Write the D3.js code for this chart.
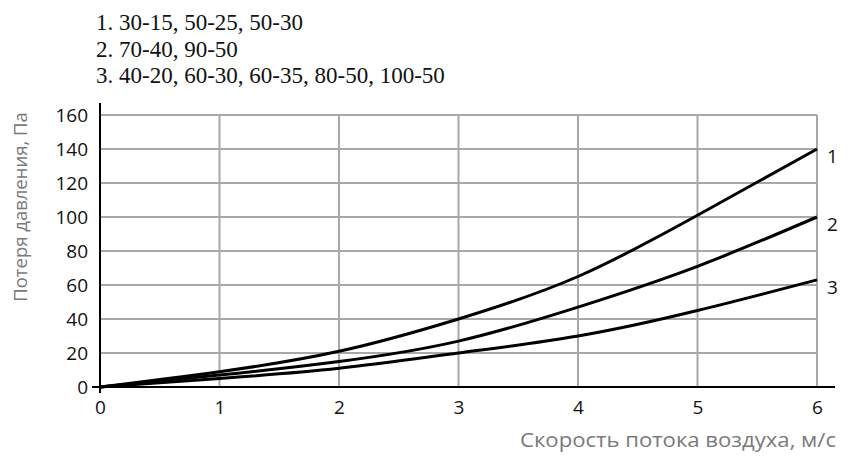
<!DOCTYPE html>
<html>
<head>
<meta charset="utf-8">
<script src="https://cdn.jsdelivr.net/npm/d3@7"></script>
<style>
body{margin:0;background:#fff;}
svg{display:block;}
</style>
</head>
<body>
<svg id="svg" width="848" height="463"></svg>
<script>
// скорость, м/с
var speeds = [0, 1, 2, 3, 4, 5, 6];
// потеря давления, Па
var curve1 = [0, 9, 21, 40, 65, 101, 140];
var curve2 = [0, 7, 15, 27, 47, 71, 100];
var curve3 = [0, 5, 11, 20, 30, 45, 63];
var curveNames = ["1", "2", "3"];
var yTicks = [0, 20, 40, 60, 80, 100, 120, 140, 160];
var headerLines = [
	"1. 30-15, 50-25, 50-30",
	"2. 70-40, 90-50",
	"3. 40-20, 60-30, 60-35, 80-50, 100-50"
];

var svg = d3.select("#svg");
var x = d3.scaleLinear().domain([0, 6]).range([100, 817]);
var y = d3.scaleLinear().domain([0, 160]).range([387, 115]);

// шапка
svg.selectAll("text.hdr").data(headerLines).enter().append("text")
	.attr("class", "hdr")
	.attr("x", 96)
	.attr("y", function(d, i){ return 30 + i * 26.5; })
	.style("font-family", "'Liberation Serif', 'Times New Roman', serif")
	.style("font-size", "23px")
	.attr("fill", "#111")
	.text(function(d){ return d; });

// сетка
var grid = svg.append("g").attr("stroke", "#a8a8a8").attr("stroke-width", 2);
grid.selectAll("line.h").data(yTicks.slice(1)).enter().append("line")
	.attr("x1", x(0)).attr("x2", x(6))
	.attr("y1", function(d){ return y(d); }).attr("y2", function(d){ return y(d); });
grid.selectAll("line.v").data(speeds.slice(1)).enter().append("line")
	.attr("x1", function(d){ return x(d); }).attr("x2", function(d){ return x(d); })
	.attr("y1", y(160)).attr("y2", y(0));

// оси
var yAxis = svg.append("g").attr("transform", "translate(" + x(0) + ",0)")
	.call(d3.axisLeft(y).tickValues(yTicks).tickSize(0).tickPadding(12));
yAxis.select(".domain").remove();
yAxis.selectAll("text")
	.style("font-family", "'Open Sans', sans-serif")
	.style("font-size", "19px")
	.attr("fill", "#111");

var xAxis = svg.append("g").attr("transform", "translate(0," + y(0) + ")")
	.call(d3.axisBottom(x).tickValues(speeds).tickSize(0).tickPadding(14).tickFormat(d3.format("d")));
xAxis.select(".domain").remove();
xAxis.selectAll("text")
	.style("font-family", "'Open Sans', sans-serif")
	.style("font-size", "19px")
	.attr("fill", "#111");

svg.append("line").attr("x1", x(0)).attr("x2", x(0)).attr("y1", 103).attr("y2", 393)
	.attr("stroke", "#000").attr("stroke-width", 2);
svg.append("line").attr("x1", 92).attr("x2", 835).attr("y1", y(0)).attr("y2", y(0))
	.attr("stroke", "#000").attr("stroke-width", 2);

// кривые
var line = d3.line()
	.x(function(d){ return x(d[0]); })
	.y(function(d){ return y(d[1]); })
	.curve(d3.curveNatural);
var series = [curve1, curve2, curve3];
svg.selectAll("path.curve").data(series).enter().append("path")
	.attr("class", "curve")
	.attr("d", function(s){ return line(s.map(function(v, i){ return [speeds[i], v]; })); })
	.attr("fill", "none").attr("stroke", "#000").attr("stroke-width", 3);

svg.selectAll("text.lbl").data(series).enter().append("text")
	.attr("class", "lbl")
	.attr("x", x(6) + 10)
	.attr("y", function(s){ return y(s[s.length - 1]) + 14; })
	.style("font-family", "'Open Sans', sans-serif")
	.style("font-size", "19px")
	.attr("fill", "#111")
	.text(function(d, i){ return curveNames[i]; });

// подписи осей
svg.append("text")
	.attr("transform", "translate(27,207) rotate(-90)")
	.attr("text-anchor", "middle")
	.style("font-family", "'Open Sans', sans-serif")
	.style("font-size", "18.5px")
	.attr("fill", "#7a7a7a")
	.text("Потеря давления, Па");

svg.append("text")
	.attr("x", 836).attr("y", 447)
	.attr("text-anchor", "end")
	.attr("textLength", 316)
	.attr("lengthAdjust", "spacingAndGlyphs")
	.style("font-family", "'Open Sans', sans-serif")
	.style("font-size", "20px")
	.attr("fill", "#7a7a7a")
	.text("Скорость потока воздуха, м/с");
</script>
</body>
</html>
